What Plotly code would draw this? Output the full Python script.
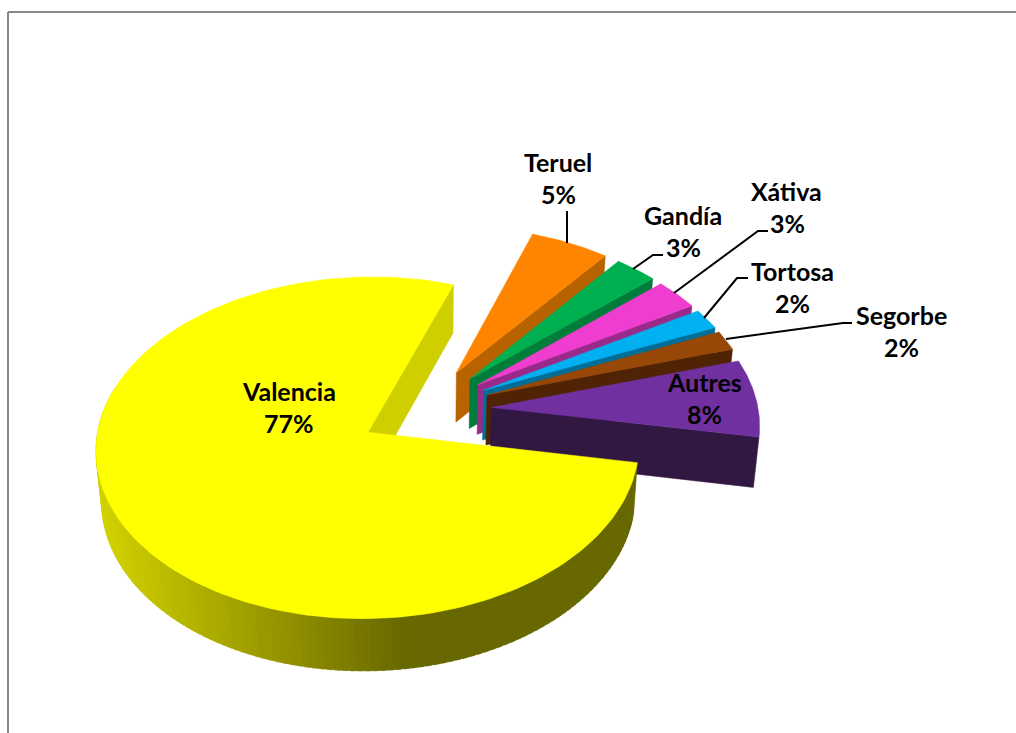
import math
import plotly.graph_objects as go

# ---- data ----
regions = ["Teruel", "Gandía", "Xátiva", "Tortosa", "Segorbe", "Autres", "Valencia"]
# shares; the printed labels are their rounded values
shares = [5.3, 2.85, 3.0, 2.0, 1.9, 7.5, 77.45]
printed_percent = [5, 3, 3, 2, 2, 8, 77]

# ---- styles ----
top_colors = ["#ff8500", "#00b050", "#ee3dcf", "#00b0f0", "#974706", "#7030a0", "#ffff00"]
wall_colors = ["#b86200", "#007d3a", "#9a2a8a", "#006f97", "#4f2304", "#311842", "#cfcf00"]
label_x = [558, 683, 786, 792, 901, 704, 289]
label_y = [163, 216, 192, 272, 316, 383, 392]
leaders = {
    "Teruel": ([567, 567], [211, 243]),
    "Gandía": ([633, 653, 663], [269, 255, 255]),
    "Xátiva": ([674, 758, 768], [293, 231, 231]),
    "Tortosa": ([704, 737, 748], [318, 278, 278]),
    "Segorbe": ([726, 843, 852], [339, 323, 323]),
}

# ---- projection of the exploded disc onto the page ----
START_DEG = 19.0
CX, CY = 425.5, 410.0
R = 267.0
EXPLODE_U, EXPLODE_V = 66.0, 70.0
TILT = 0.6195
PERSP = 0.09
DEPTH = 50.0
DEPTH_VAR = 2.0
SHRINK = 0.983


def project(u, v, bottom=False):
    den = 1 + PERSP * v / R
    x = CX + u / den
    y = CY - TILT * v / den
    if bottom:
        x = CX + (x - CX) * SHRINK
        y = y + DEPTH - DEPTH_VAR * v / R
    return x, y


def world(angle, radius, mid):
    a, m = math.radians(angle), math.radians(mid)
    return (EXPLODE_U * math.sin(m) + radius * math.sin(a),
            EXPLODE_V * math.cos(m) + radius * math.cos(a))


def poly(points, color):
    xs = [p[0] for p in points] + [points[0][0]]
    ys = [p[1] for p in points] + [points[0][1]]
    return go.Scatter(x=xs, y=ys, mode="lines", fill="toself", fillcolor=color,
                      line=dict(color=color, width=0.5), hoverinfo="skip",
                      showlegend=False)


def side_color(x):
    t = min(max((x - 100.0) / 300.0, 0.0), 1.0)
    a, b = (0xd2, 0xd2, 0x00), (0x68, 0x68, 0x00)
    return "rgb(%d,%d,%d)" % tuple(round(a[i] + (b[i] - a[i]) * t) for i in range(3))


fig = go.Figure()

# radial walls first, from the back slices to the front ones
angle = START_DEG
for name, share, wall, top in zip(regions, shares, wall_colors, top_colors):
    sweep = share * 3.6
    mid = angle + sweep / 2
    edge = world(angle + sweep, R, mid)
    apex = world(0, 0, mid)
    fig.add_trace(poly([project(*apex), project(*edge),
                        project(*edge, bottom=True), project(*apex, bottom=True)], wall))
    # each small slice's top goes straight over its own wall
    if name != "Valencia":
        steps = max(12, int(sweep * 2))
        outline = [project(*apex)]
        outline += [project(*world(angle + sweep * i / steps, R, mid)) for i in range(steps + 1)]
        fig.add_trace(poly(outline, top))
    angle += sweep

# Valencia's shaded rim and top are painted last, over everything behind them
angle = START_DEG
for name, share, top in zip(regions, shares, top_colors):
    sweep = share * 3.6
    if name == "Valencia":
        mid = angle + sweep / 2
        steps = int(sweep / 1.5)
        for i in range(steps):
            b0 = angle + sweep * i / steps
            b1 = angle + sweep * (i + 1) / steps
            if 85 < (b0 % 360) < 285:
                extra = b1 + 1.0
                p = [project(*world(b0, R, mid)), project(*world(extra, R, mid)),
                     project(*world(extra, R, mid), bottom=True),
                     project(*world(b0, R, mid), bottom=True)]
                fig.add_trace(poly(p, side_color((p[0][0] + p[1][0]) / 2)))
        outline = [project(*world(0, 0, mid))]
        outline += [project(*world(angle + sweep * i / steps, R, mid)) for i in range(steps + 1)]
        fig.add_trace(poly(outline, top))
    angle += sweep

# leader lines
for name, (lx, ly) in leaders.items():
    fig.add_trace(go.Scatter(x=lx, y=ly, mode="lines", line=dict(color="black", width=2),
                             hoverinfo="skip", showlegend=False))

# labels
font = dict(family="Lato", size=25, color="black")
annotations = []
for name, pct, x, y in zip(regions, printed_percent, label_x, label_y):
    annotations.append(dict(x=x, y=y - 1, text="<b>%s</b>" % name, showarrow=False, font=font,
                            xanchor="center", yanchor="middle"))
    annotations.append(dict(x=x + (1 if name == "Xátiva" else 0), y=y + 31,
                            text="<b>%d%%</b>" % pct, showarrow=False, font=font,
                            xanchor="center", yanchor="middle"))

# chart frame (top and left edges only are in view)
shapes = [
    dict(type="line", x0=8, x1=1016, y0=12, y1=12, line=dict(color="#878787", width=2)),
    dict(type="line", x0=8, x1=8, y0=12, y1=733, line=dict(color="#878787", width=2)),
]

fig.update_layout(
    width=1016, height=733, margin=dict(l=0, r=0, t=0, b=0),
    paper_bgcolor="white", plot_bgcolor="white", showlegend=False,
    xaxis=dict(range=[0, 1016], visible=False, fixedrange=True),
    yaxis=dict(range=[733, 0], visible=False, fixedrange=True),
    annotations=annotations, shapes=shapes,
)
fig.write_html("out.html", post_script="document.body.style.margin='0';document.body.style.overflow='hidden';",
               config={"displayModeBar": False})
